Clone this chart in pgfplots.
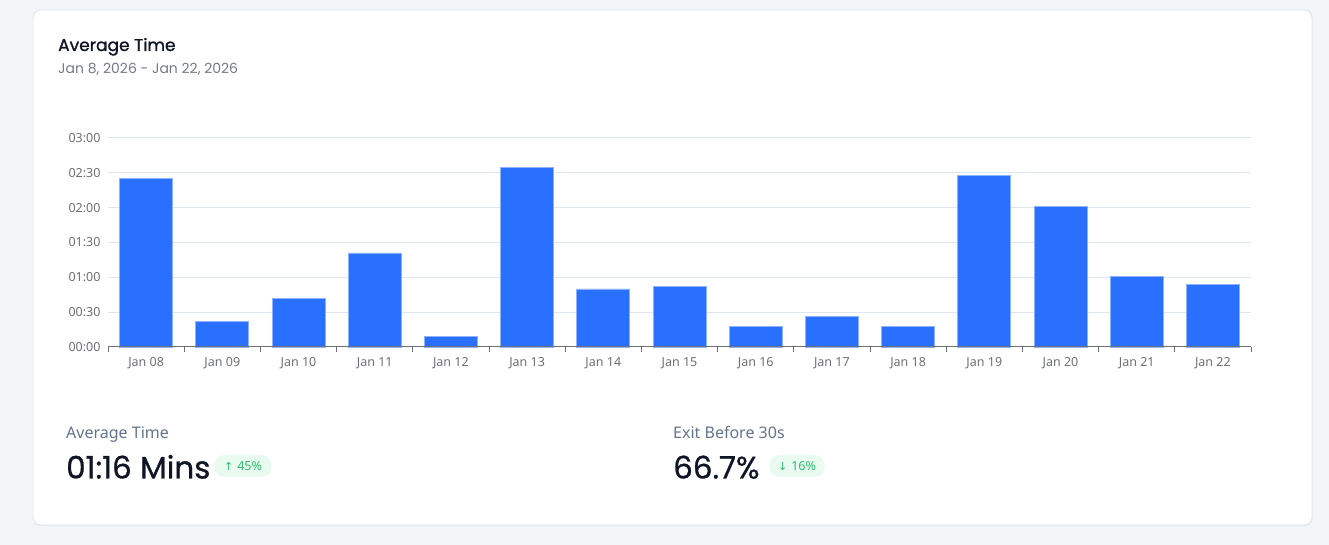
\documentclass[border=0pt]{standalone}
\usepackage{fontspec}
\usepackage{pgfplots}
\pgfplotsset{compat=1.18}
\setmainfont{Noto Sans}
\newfontfamily\headfont{Poppins}
\newfontfamily\headsemi{Poppins}[FakeBold=1.2]
\newfontfamily\headmed{Poppins}[FakeBold=0.8]
\newfontfamily\symfont{DejaVu Sans}
\definecolor{bgc}{HTML}{F2F6F9}
\definecolor{cardb}{HTML}{E2E6EA}
\definecolor{barc}{HTML}{2A70FF}
\definecolor{barl}{HTML}{8FB2FF}
\definecolor{gridc}{HTML}{E0E6F1}
\definecolor{tickc}{HTML}{6E7079}
\definecolor{titlec}{HTML}{0E1525}
\definecolor{subc}{HTML}{737B88}
\definecolor{labc}{HTML}{64748B}
\definecolor{badgebg}{HTML}{E9FBF0}
\definecolor{badgetx}{HTML}{2DBE6C}
\begin{document}
\begin{tikzpicture}[x=1bp,y=1bp]
\fill[bgc] (0,0) rectangle (1329,545);
\fill[cardb!70] (33,18.5) [rounded corners=8bp] rectangle (1313,535);
\filldraw[fill=white,draw=cardb,line width=0.8bp,rounded corners=8bp] (33,20) rectangle (1312,535);
\node[anchor=base west,inner sep=0,text=titlec] at (58,494) {\headsemi\fontsize{17bp}{20bp}\selectfont Average Time};
\node[anchor=base west,inner sep=0,text=subc] at (58,471) {\headfont\fontsize{14bp}{17bp}\selectfont Jan 8, 2026 - Jan 22, 2026};
\begin{axis}[
  at={(108bp,198bp)}, anchor=south west,
  scale only axis, width=1143bp, height=209bp,
  xmin=-0.5, xmax=14.5, ymin=0, ymax=180,
  axis line style={draw=none},
  ymajorgrids, grid style={color=gridc, line width=1bp},
  ytick={0,30,60,90,120,150,180},
  yticklabels={00:00,00:30,01:00,01:30,02:00,02:30,03:00},
  ytick style={draw=none},
  xtick={0,...,14},
  xticklabels={Jan 08,Jan 09,Jan 10,Jan 11,Jan 12,Jan 13,Jan 14,Jan 15,Jan 16,Jan 17,Jan 18,Jan 19,Jan 20,Jan 21,Jan 22},
  minor xtick={-0.5,0.5,...,14.5},
  xtick pos=bottom, ytick pos=left,
  tick align=outside,
  major tick length=0bp, minor tick length=5bp,
  major x tick style={draw=none},
  minor x tick style={color=tickc, line width=1bp},
  xticklabel style={font=\fontsize{12.5bp}{14bp}\selectfont, text=tickc, yshift=-7bp},
  yticklabel style={font=\fontsize{12.5bp}{14bp}\selectfont, text=tickc, xshift=-4bp},
  clip=false,
]
\addplot[ybar, bar width=53bp, fill=barc, draw=barl, line width=0.8bp] coordinates {
 (0,145) (1,22) (2,42) (3,81) (4,9) (5,155) (6,50) (7,52) (8,17.5) (9,26) (10,17.5) (11,148) (12,121) (13,61) (14,54)
};
\draw[tickc, line width=1bp] (axis cs:-0.5,0) -- (axis cs:14.5,0);
\end{axis}
% bottom stats
\node[anchor=base west,inner sep=0,text=labc] at (66,106.5) {\fontsize{16bp}{19bp}\selectfont Average Time};
\node[anchor=base west,inner sep=0,text=titlec] at (66,66.5) {\headmed\fontsize{31bp}{36bp}\selectfont 01:16 Mins};
\node[fill=badgebg,rounded corners=10bp,minimum height=22bp,minimum width=57bp,inner sep=0,text=badgetx] at (243,79) {{\symfont\fontsize{11bp}{13bp}\selectfont ↑}\hspace{4bp}\fontsize{12.5bp}{14bp}\selectfont 45\%};
\node[anchor=base west,inner sep=0,text=labc] at (673,106.5) {\fontsize{16bp}{19bp}\selectfont Exit Before 30s};
\node[anchor=base west,inner sep=0,text=titlec] at (673,66.5) {\headmed\fontsize{31bp}{36bp}\selectfont 66.7\%};
\node[fill=badgebg,rounded corners=10bp,minimum height=22bp,minimum width=55bp,inner sep=0,text=badgetx] at (797,79) {{\symfont\fontsize{11bp}{13bp}\selectfont ↓}\hspace{4bp}\fontsize{12.5bp}{14bp}\selectfont 16\%};
\end{tikzpicture}
\end{document}
